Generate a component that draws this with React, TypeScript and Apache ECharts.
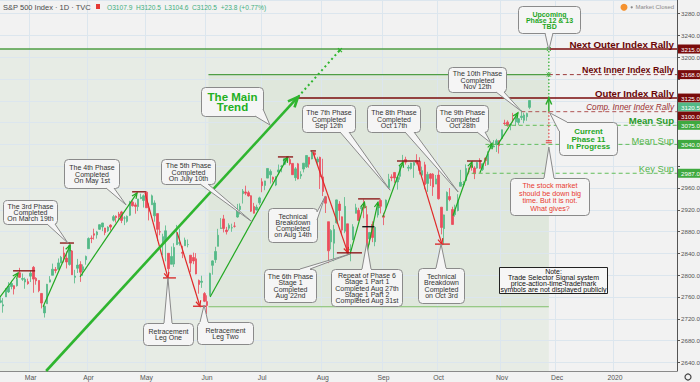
import React, { useEffect, useRef } from "react";
import * as echarts from "echarts";

// ---- S&P 500 daily bars, [open, high, low, close] ----
const feb2019 = [
  [2750.3, 2761.9, 2748.6, 2753.0], [2743.5, 2757.9, 2731.2, 2745.7], [2760.2, 2775.7, 2760.2, 2775.6],
  [2769.3, 2787.3, 2767.3, 2779.8], [2779.1, 2789.9, 2774.1, 2784.7], [2780.7, 2781.6, 2764.6, 2774.9],
  [2780.7, 2794.2, 2779.1, 2792.7], [2804.4, 2813.5, 2795.0, 2796.1], [2792.4, 2803.1, 2789.5, 2793.9],
  [2787.5, 2795.8, 2775.1, 2792.4], [2788.1, 2793.7, 2782.5, 2784.5],
];
const mar2019 = [
  [2798.2, 2808.0, 2787.4, 2803.7], [2814.4, 2816.9, 2767.7, 2792.8], [2794.4, 2796.4, 2782.5, 2789.7],
  [2790.3, 2790.3, 2768.7, 2771.5], [2766.5, 2767.3, 2739.1, 2748.9], [2730.8, 2744.1, 2722.3, 2743.1],
  [2747.6, 2784.0, 2747.6, 2783.3], [2787.3, 2798.3, 2786.7, 2791.5], [2799.8, 2821.2, 2799.8, 2810.9],
  [2810.4, 2815.0, 2803.5, 2808.5], [2810.8, 2830.7, 2810.8, 2822.5], [2822.6, 2835.4, 2822.0, 2832.9],
  [2840.8, 2852.4, 2823.3, 2832.6], [2831.3, 2843.5, 2812.4, 2824.2], [2819.7, 2860.3, 2817.4, 2854.9],
  [2844.5, 2846.2, 2800.5, 2800.7], [2796.0, 2809.8, 2785.0, 2798.4], [2812.7, 2829.9, 2804.0, 2818.5],
  [2819.7, 2825.6, 2787.7, 2805.4], [2809.4, 2819.7, 2798.8, 2815.4], [2828.3, 2836.0, 2819.2, 2834.4],
];
const apr2019 = [
  [2848.6, 2869.4, 2848.6, 2867.2], [2868.2, 2872.9, 2858.8, 2867.2], [2876.1, 2885.3, 2865.2, 2873.4],
  [2874.0, 2881.3, 2867.1, 2879.4], [2884.2, 2893.2, 2883.0, 2892.7], [2888.5, 2896.0, 2880.8, 2895.8],
  [2886.6, 2886.9, 2873.3, 2878.2], [2881.4, 2889.7, 2879.1, 2888.2], [2891.9, 2893.4, 2882.0, 2888.3],
  [2900.9, 2910.5, 2898.4, 2907.4], [2908.3, 2909.6, 2896.5, 2905.6], [2912.3, 2916.1, 2900.7, 2907.1],
  [2916.0, 2918.0, 2895.5, 2900.5], [2904.8, 2908.4, 2891.9, 2905.0], [2898.8, 2909.5, 2896.4, 2908.0],
  [2910.0, 2936.3, 2908.5, 2933.7], [2934.0, 2936.8, 2926.1, 2927.3], [2929.0, 2933.1, 2912.8, 2926.2],
  [2925.8, 2939.9, 2917.6, 2939.9], [2940.6, 2949.5, 2939.4, 2943.0], [2937.1, 2948.2, 2924.1, 2945.8],
];
const may2019 = [
  [2952.3, 2954.1, 2923.4, 2923.7], [2922.2, 2931.7, 2900.5, 2917.5], [2929.2, 2947.9, 2929.2, 2945.6],
  [2908.9, 2937.3, 2898.2, 2932.5], [2913.0, 2913.0, 2862.6, 2884.1], [2879.6, 2898.0, 2873.3, 2879.4],
  [2859.8, 2876.0, 2836.4, 2870.7], [2863.1, 2891.3, 2825.4, 2881.4], [2840.2, 2840.2, 2801.4, 2811.9],
  [2820.1, 2852.5, 2820.1, 2834.4], [2820.4, 2858.7, 2815.1, 2851.0], [2855.8, 2892.2, 2855.8, 2876.3],
  [2858.6, 2885.5, 2854.2, 2859.5], [2841.9, 2853.9, 2831.3, 2840.2], [2854.0, 2868.9, 2854.0, 2864.4],
  [2856.1, 2865.5, 2851.1, 2856.3], [2836.7, 2836.7, 2805.5, 2822.2], [2832.4, 2841.4, 2820.2, 2826.1],
  [2830.0, 2840.5, 2801.6, 2802.4], [2790.3, 2792.0, 2766.1, 2783.0], [2786.9, 2799.0, 2776.7, 2788.9],
  [2766.2, 2769.0, 2750.5, 2752.1],
];
const jun2019 = [
  [2751.5, 2763.1, 2728.8, 2744.5], [2762.6, 2804.5, 2762.6, 2803.3], [2818.1, 2827.3, 2800.9, 2826.2],
  [2828.5, 2852.1, 2822.5, 2843.5], [2852.9, 2885.0, 2852.9, 2873.3], [2885.8, 2904.8, 2885.5, 2886.7],
  [2903.3, 2910.6, 2878.5, 2885.7], [2882.7, 2888.6, 2874.7, 2879.8], [2886.2, 2895.2, 2882.0, 2891.6],
  [2886.8, 2894.5, 2879.6, 2887.0], [2889.8, 2897.3, 2887.3, 2889.7], [2906.7, 2930.8, 2905.4, 2917.8],
  [2920.6, 2931.7, 2911.4, 2926.5], [2949.6, 2958.1, 2931.5, 2954.2], [2952.7, 2964.2, 2946.9, 2950.5],
  [2951.4, 2954.9, 2944.1, 2945.4], [2945.8, 2946.5, 2916.0, 2917.4], [2926.1, 2932.6, 2913.0, 2913.8],
  [2919.7, 2929.3, 2918.6, 2924.9], [2932.9, 2944.0, 2929.1, 2941.8],
];
const jul2019 = [
  [2971.4, 2977.9, 2952.2, 2964.3], [2964.7, 2973.2, 2955.9, 2973.0], [2978.1, 2995.8, 2978.0, 2995.8],
  [2984.3, 2994.0, 2968.0, 2990.4], [2979.8, 2980.8, 2970.1, 2976.0], [2965.5, 2981.9, 2963.4, 2979.6],
  [2989.3, 3003.0, 2984.6, 2993.1], [2999.6, 3002.3, 2988.8, 2999.9], [3003.4, 3013.9, 3001.9, 3013.8],
  [3017.8, 3017.8, 3008.8, 3014.3], [3012.1, 3015.0, 3001.2, 3004.0], [3005.1, 3005.3, 2984.3, 2984.4],
  [2978.9, 2998.3, 2973.1, 2995.1], [3004.3, 3006.0, 2975.9, 2976.6], [2981.9, 2990.7, 2976.7, 2985.0],
  [2994.7, 3005.9, 2988.6, 3005.5], [2998.8, 3019.6, 2996.8, 3019.6], [3016.3, 3016.3, 2997.2, 3003.7],
  [3013.3, 3028.0, 3012.6, 3025.9], [3024.5, 3025.6, 3014.3, 3021.0], [3007.7, 3017.2, 3000.9, 3013.2],
  [3016.2, 3017.4, 2958.1, 2980.4],
];
const aug2019 = [
  [2980.3, 3013.6, 2945.2, 2953.6], [2943.9, 2945.5, 2914.1, 2932.1], [2898.1, 2898.1, 2822.1, 2844.7],
  [2861.2, 2884.4, 2847.4, 2881.8], [2858.7, 2892.2, 2825.7, 2884.0], [2896.2, 2938.7, 2894.5, 2938.1],
  [2930.5, 2935.8, 2900.2, 2918.7], [2907.1, 2907.6, 2873.1, 2882.7], [2880.7, 2943.3, 2877.1, 2926.3],
  [2894.2, 2894.2, 2839.6, 2840.6], [2846.2, 2856.7, 2825.5, 2847.6], [2864.7, 2893.6, 2864.7, 2888.7],
  [2913.5, 2931.0, 2913.5, 2923.7], [2919.0, 2923.6, 2899.6, 2900.5], [2922.0, 2928.7, 2917.9, 2924.4],
  [2930.9, 2939.1, 2904.5, 2923.0], [2911.1, 2927.0, 2835.0, 2847.1], [2866.7, 2879.3, 2856.0, 2878.4],
  [2893.1, 2898.8, 2860.6, 2869.2], [2861.3, 2890.0, 2853.1, 2887.9], [2910.4, 2930.5, 2905.7, 2924.6],
  [2937.1, 2940.4, 2913.3, 2926.5],
];
const sep2019 = [
  [2909.0, 2914.4, 2891.9, 2906.3], [2924.7, 2938.8, 2921.9, 2937.8], [2960.6, 2985.9, 2960.6, 2976.0],
  [2980.3, 2985.0, 2972.5, 2978.7], [2988.4, 2989.4, 2969.4, 2978.4], [2971.0, 2979.4, 2957.0, 2979.4],
  [2981.4, 3000.9, 2975.3, 3000.9], [3009.1, 3020.7, 3000.9, 3009.6], [3012.2, 3017.3, 3002.9, 3007.4],
  [2996.4, 3002.2, 2990.7, 2998.0], [2995.7, 3006.2, 2993.7, 3005.7], [3001.5, 3007.8, 2978.6, 3006.7],
  [3010.4, 3022.0, 3003.2, 3006.8], [3008.4, 3016.4, 2984.7, 2992.1], [2983.5, 2999.2, 2982.2, 2991.8],
  [3002.4, 3008.0, 2957.7, 2966.6], [2968.4, 2989.8, 2952.9, 2984.9], [2985.7, 2987.3, 2963.7, 2977.6],
  [2985.5, 2987.3, 2945.5, 2961.8], [2967.1, 2983.9, 2967.1, 2976.7],
];
const oct2019 = [
  [2983.7, 2992.5, 2938.7, 2940.3], [2924.8, 2924.8, 2874.9, 2887.6], [2885.4, 2911.1, 2855.9, 2910.6],
  [2918.6, 2953.7, 2918.6, 2952.0], [2944.2, 2959.8, 2935.7, 2938.8], [2920.4, 2925.5, 2892.7, 2893.1],
  [2911.1, 2929.3, 2907.4, 2919.4], [2918.6, 2948.5, 2917.1, 2938.1], [2963.1, 2993.3, 2963.1, 2970.3],
  [2965.8, 2972.8, 2962.9, 2966.2], [2973.6, 3003.3, 2973.6, 2995.7], [2989.7, 2997.5, 2985.2, 2989.7],
  [3000.8, 3008.3, 2991.8, 2998.0], [2996.8, 3000.0, 2976.3, 2986.2], [2996.5, 3007.3, 2995.4, 3006.7],
  [3010.7, 3014.6, 2995.0, 2996.0], [2994.0, 3004.8, 2991.2, 3004.5], [3014.8, 3016.1, 3000.4, 3010.3],
  [3003.3, 3027.4, 3001.9, 3022.6], [3032.1, 3044.1, 3032.1, 3039.4], [3035.4, 3047.9, 3034.8, 3036.9],
  [3039.7, 3050.1, 3026.0, 3046.8], [3046.9, 3046.9, 3023.2, 3037.6],
];
const nov2019 = [
  [3050.7, 3067.0, 3050.7, 3066.9], [3079.0, 3085.2, 3074.9, 3078.3], [3080.8, 3084.0, 3072.2, 3074.6],
  [3075.1, 3078.3, 3065.9, 3076.8], [3087.0, 3097.8, 3080.2, 3085.2], [3081.3, 3093.1, 3073.6, 3093.1],
  [3080.3, 3088.3, 3075.8, 3087.0], [3089.3, 3102.6, 3084.7, 3091.8], [3084.2, 3098.1, 3078.8, 3094.0],
  [3090.8, 3098.2, 3083.3, 3096.6], [3107.9, 3120.5, 3104.6, 3120.5],
];

// ---- calendar ----
const FIRST_DAY = "2019-02-13";
const BAR_COUNT = 246;
const LAST_LABEL_MONTH = "2020-01";
const holidays = ["2019-02-18", "2019-04-19", "2019-05-27", "2019-07-04", "2019-09-02", "2019-11-28", "2019-12-25", "2020-01-01", "2020-01-20"];
const monthNames = ["Jan", "Feb", "Mar", "Apr", "May", "Jun", "Jul", "Aug", "Sep", "Oct", "Nov", "Dec"];

// ---- price levels (right side) ----
const levelNextOuter = 3215;
const levelNextInner = 3168;
const levelOuter = 3125;
const levelCompInner = 3100;
const levelMeanSup1 = 3075;
const levelMeanSup2 = 3040;
const levelKeySup = 2987;
const innerZoneBottom = 2742;

// ---- annotation anchors in data space: [bar index, price] ----
const phaseArrows = [
  { from: [-0.1, 2760], to: [6.4, 2804], up: true },
  { from: [15.5, 2742], to: [25.3, 2855], up: true },
  { from: [28.9, 2797], to: [49.6, 2951], up: true },
  { from: [52.5, 2951], to: [60.8, 2795], up: false },
  { from: [64.1, 2879], to: [72.4, 2743], up: false },
  { from: [76.1, 2760], to: [104.3, 3017], up: true },
  { from: [113.4, 3026], to: [126.1, 2841], up: false },
  { from: [126.9, 2839], to: [132.1, 2934], up: true },
  { from: [133.0, 2841], to: [137.0, 2934], up: true },
  { from: [138.8, 2907], to: [146.1, 3008], up: true },
  { from: [151.2, 3008], to: [160.2, 2857], up: false },
  { from: [164.2, 2909], to: [171.1, 3008], up: true },
  { from: [174.0, 2988], to: [178.4, 3042], up: true },
  { from: [180.4, 3039], to: [187.8, 3098], up: true },
];
const markers = [
  { from: 4.6, to: 12.6, price: 2808, kind: "dark" },
  { from: 21.6, to: 26.7, price: 2859, kind: "dark" },
  { from: 47.8, to: 52.8, price: 2953, kind: "dark" },
  { from: 59.0, to: 63.7, price: 2795, kind: "red" },
  { from: 69.9, to: 74.6, price: 2743, kind: "red" },
  { from: 100.7, to: 106.2, price: 3017, kind: "dark" },
  { from: 112.5, to: 114.5, price: 3028, kind: "dark" },
  { from: 122.1, to: 131.2, price: 2841, kind: "dark" },
  { from: 129.8, to: 137.7, price: 2940, kind: "dark" },
  { from: 131.3, to: 135.6, price: 2889, kind: "black" },
  { from: 143.9, to: 152.3, price: 3009.5, kind: "dark" },
  { from: 157.7, to: 163.1, price: 2857, kind: "red" },
  { from: 169.3, to: 174.7, price: 3009.5, kind: "dark" },
];
const mainTrend = { from: [16.6, 2624.2], to: [108, 3127], ext: [123.2, 3213] };
const projectionBar = 199;
const innerZoneStart = 75.5;

// ---- callouts: text, box (pixels), wedge base (pixels), tip (data) ----
const callouts = [
  { text: "The 3rd Phase\nCompleted\nOn March 19th", box: [3, 200, 54, 24], base: [[47, 224], [55, 224]], tip: [24.5, 2859], kind: "plain" },
  { text: "The 4th Phase\nCompleted\nOn May 1st", box: [64, 159, 55, 29], base: [[106, 188], [114, 188]], tip: [45.6, 2929], kind: "plain" },
  { text: "The 5th Phase\nCompleted\nOn July 10th", box: [161, 159, 54, 25], base: [[200, 184], [208, 184]], tip: [91.3, 2898], kind: "plain" },
  { text: "Retracement\nLeg One", box: [143, 323, 50, 22], base: [[164, 323], [172, 323]], tip: [60.8, 2795], kind: "plain" },
  { text: "Retracement\nLeg Two", box: [197, 322, 56, 22], base: [[200, 322], [208, 322]], tip: [73.9, 2745], kind: "plain" },
  { text: "The 6th Phase\nStage 1\nCompleted\nAug 22nd", box: [264, 269, 52, 33], base: [[300, 269], [310, 269]], tip: [126.9, 2839], kind: "plain" },
  { text: "Technical\nBreakdown\nCompleted\non Aug 14th", box: [268, 208, 49, 34], base: [[317, 212], [317, 220]], tip: [117.8, 2944], kind: "plain" },
  { text: "The 7th Phase\nCompleted\nSep 12th", box: [302, 105, 53, 27], base: [[340, 132], [349, 132]], tip: [141.4, 2956], kind: "plain" },
  { text: "Repeat of Phase 6\nStage 1 Part 1\nCompleted Aug 27th\nStage 1 Part 2\nCompleted Aug 31st", box: [331, 269, 71, 37], base: [[362, 269], [371, 269]], tip: [132.9, 2858.5], kind: "plain" },
  { text: "The 8th Phase\nCompleted\nOct 17th", box: [367, 105, 53, 27], base: [[405, 132], [414, 132]], tip: [166.1, 2952.6], kind: "plain" },
  { text: "Technical\nBreakdown\nCompleted\non Oct 3rd", box: [418, 268, 46, 35], base: [[436, 268], [446, 268]], tip: [159.9, 2857], kind: "plain" },
  { text: "The 9th Phase\nCompleted\nOct 28th", box: [436, 105, 52, 27], base: [[477, 132], [485, 132]], tip: [178.0, 3042.5], kind: "plain" },
  { text: "The 10th Phase\nCompleted\nNov 12th", box: [448, 67, 58, 25], base: [[496, 92], [504, 92]], tip: [189.2, 3100], kind: "plain" },
  { text: "Upcoming\nPhase 12 & 13\nTBD", box: [518, 6, 62, 27], base: [[545, 33], [553, 33]], tip: [199, 3213], kind: "greenSmall" },
  { text: "Current\nPhase 11\nIn Progress", box: [559, 122, 58, 33], base: [[559, 131], [567, 122]], tip: [199.3, 3098], kind: "green" },
  { text: "The stock market\nshould be down big\ntime. But it is not.\nWhat gives?", box: [510, 178, 79, 37], base: [[544, 178], [554, 178]], tip: [199, 3035], kind: "red" },
  { text: "The Main\nTrend", box: [201, 87, 62, 29], base: [[255, 116], [263, 109]], tip: [97.8, 3075.6], kind: "trend" },
];
const noteText = "Note:\nTrade Selector Signal system\nprice-action-time-trademark\nsymbols are not displayed publicly";

const FONT = "Liberation Sans";
const DARK_RED = "#7a0b0b";
const GREEN_LINE = "#4f9e45";
const UP = "#53b987";
const DOWN = "#eb4d5c";

function tradingDays(start: string, count: number): string[] {
  const out: string[] = [];
  const d = new Date(start + "T00:00:00Z");
  while (out.length < count) {
    const wd = d.getUTCDay();
    const s = d.toISOString().slice(0, 10);
    if (wd !== 0 && wd !== 6 && holidays.indexOf(s) < 0) out.push(s);
    d.setUTCDate(d.getUTCDate() + 1);
  }
  return out;
}

export default function App() {
  const ref = useRef<HTMLDivElement>(null);
  useEffect(() => {
    if (!ref.current) return;
    document.body.style.margin = "0";
    const chart = echarts.init(ref.current, null, { renderer: "svg" });
    const dates = tradingDays(FIRST_DAY, BAR_COUNT);
    const bars = [...feb2019, ...mar2019, ...apr2019, ...may2019, ...jun2019, ...jul2019, ...aug2019, ...sep2019, ...oct2019, ...nov2019];
    const candles = bars.map(([o, h, l, c]) => [o, c, l, h]);
    const lastClose = bars[bars.length - 1][3];
    const isMonthStart = (i: number) =>
      i > 0 && dates[i].slice(5, 7) !== dates[i - 1].slice(5, 7) && dates[i].slice(0, 7) <= LAST_LABEL_MONTH;
    const tagLevels = [levelNextOuter, levelNextInner, levelOuter, lastClose, levelCompInner, levelMeanSup1, levelMeanSup2, levelKeySup];
    const hiddenByTag = (v: number) => tagLevels.some((t) => Math.abs(t - v) * 0.545 < 7.6);

    chart.setOption({
      animation: false,
      backgroundColor: "#f2f2f2",
      textStyle: { fontFamily: FONT },
      grid: { left: -1, right: 23, top: 0, bottom: 11, containLabel: false, outerBoundsMode: "none" },
      xAxis: {
        type: "category",
        data: dates,
        boundaryGap: true,
        axisLine: { lineStyle: { color: "#8a8a8a", width: 1.2 } },
        axisTick: { interval: (i: number) => isMonthStart(i), alignWithLabel: true, length: 3, lineStyle: { color: "#777" } },
        axisLabel: {
          interval: (i: number) => isMonthStart(i),
          formatter: (v: string) => {
            const m = +v.slice(5, 7);
            return m === 1 ? v.slice(0, 4) : monthNames[m - 1];
          },
          fontSize: 6.8, color: "#555", margin: 3,
        },
        splitLine: { show: true, interval: (i: number) => isMonthStart(i), lineStyle: { color: "#dce6ee", width: 1 } },
      },
      yAxis: {
        type: "value",
        position: "right",
        min: 2624.2,
        max: 3304.9,
        minInterval: 40,
        maxInterval: 40,
        splitNumber: 17,
        axisLine: { show: true, lineStyle: { color: "#555" } },
        axisTick: { show: true, length: 3, lineStyle: { color: "#555" } },
        axisLabel: {
          formatter: (v: number) => (hiddenByTag(v) ? "" : v.toFixed(1)),
          fontSize: 6.2, color: "#555", margin: 4, showMinLabel: false, showMaxLabel: false,
        },
        splitLine: { show: true, lineStyle: { color: "#dce6ee", width: 1 } },
      },
      series: [
        {
          type: "candlestick",
          data: candles,
          barWidth: 2,
          itemStyle: { color: UP, color0: DOWN, borderColor: UP, borderColor0: DOWN, borderWidth: 0.8 },
        },
      ],
    });

    const x0 = chart.convertToPixel({ xAxisIndex: 0 }, dates[0]) as number;
    const x1 = chart.convertToPixel({ xAxisIndex: 0 }, dates[1]) as number;
    const dx = x1 - x0;
    const X = (i: number) => x0 + i * dx;
    const Y = (p: number) => chart.convertToPixel({ yAxisIndex: 0 }, p) as number;
    const P = (a: number[]) => [X(a[0]), Y(a[1])];
    const xRight = X(BAR_COUNT - 1) + dx / 2;
    const yBottom = Y(2624.2);

    const els: any[] = [];
    const seg = (xa: number, ya: number, xb: number, yb: number, stroke: string, lw: number, dash?: number[], z = 10) => ({
      type: "line", silent: true, z, shape: { x1: xa, y1: ya, x2: xb, y2: yb }, style: { stroke, lineWidth: lw, lineDash: dash },
    });
    const arrow = (a: number[], b: number[], color: string, lw: number, head: number, z = 10) => {
      const [xa, ya] = P(a);
      const [xb, yb] = P(b);
      const ang = Math.atan2(yb - ya, xb - xa);
      const t = 0.42;
      els.push(seg(xa, ya, xb, yb, color, lw, undefined, z));
      els.push({
        type: "polyline", silent: true, z,
        shape: { points: [[xb - head * Math.cos(ang - t), yb - head * Math.sin(ang - t)], [xb, yb], [xb - head * Math.cos(ang + t), yb - head * Math.sin(ang + t)]] },
        style: { stroke: color, lineWidth: lw, fill: null },
      });
    };
    const text = (x: number, y: number, s: string, font: string, fill: string, align = "center", lineHeight?: number, z = 25) => ({
      type: "text", silent: true, z, x, y,
      style: { text: s, font, fill, textAlign: align, textVerticalAlign: "middle", align, verticalAlign: "middle", lineHeight },
    });

    // zones
    const zoneRight = X(projectionBar);
    els.push({ type: "rect", silent: true, z: -5, shape: { x: 0, y: Y(levelNextOuter), width: zoneRight, height: yBottom - Y(levelNextOuter) }, style: { fill: "#e7ece5" } });
    els.push({ type: "rect", silent: true, z: -4, shape: { x: X(innerZoneStart), y: Y(levelNextInner), width: zoneRight - X(innerZoneStart), height: Y(innerZoneBottom) - Y(levelNextInner) }, style: { fill: "#dfe7dc" } });

    // level lines
    els.push(seg(0, Y(levelNextOuter), zoneRight, Y(levelNextOuter), GREEN_LINE, 1.3, undefined, 5));
    els.push(seg(zoneRight, Y(levelNextOuter), xRight, Y(levelNextOuter), DARK_RED, 1.6, undefined, 5));
    els.push(seg(X(innerZoneStart), Y(levelNextInner), zoneRight, Y(levelNextInner), GREEN_LINE, 1.1, undefined, 5));
    els.push(seg(zoneRight, Y(levelNextInner), xRight, Y(levelNextInner), "#9a3a3a", 1, [4, 3], 5));
    els.push(seg(X(innerZoneStart), Y(innerZoneBottom), zoneRight, Y(innerZoneBottom), "#7fbf6a", 1.1, undefined, 5));
    els.push(seg(X(108), Y(levelOuter), xRight, Y(levelOuter), DARK_RED, 1.6, undefined, 5));
    els.push(seg(X(189), Y(levelCompInner), xRight, Y(levelCompInner), "#b05555", 1, [4, 3], 5));
    els.push(seg(X(183), Y(levelMeanSup1), xRight, Y(levelMeanSup1), "#62bd5a", 1, [4, 3], 5));
    els.push(seg(X(176), Y(levelMeanSup2), xRight, Y(levelMeanSup2), "#62bd5a", 1, [4, 3], 5));
    els.push(seg(X(171), Y(levelKeySup), xRight, Y(levelKeySup), "#62bd5a", 1, [4, 3], 5));

    // level labels
    const lx = xRight - 3;
    els.push(text(lx, Y(levelNextOuter) - 4.5, "Next Outer Index Rally", `bold 9.8px ${FONT}`, "#6a0606", "right"));
    els.push(text(lx, Y(levelNextInner) - 5, "Next Inner Index Rally", `bold 8.8px ${FONT}`, "#6a0606", "right"));
    els.push(text(lx, Y(levelOuter) - 5, "Outer Index Rally", `bold 9.6px ${FONT}`, "#6a0606", "right"));
    els.push(text(lx, Y(levelCompInner) - 3.8, "Comp. Inner Index Rally", `italic 8.2px ${FONT}`, "#9a2f2f", "right"));
    els.push(text(lx, Y(levelMeanSup1) - 5, "Mean Sup", `bold 9.6px ${FONT}`, "#2a9a2a", "right"));
    els.push(text(lx, Y(levelMeanSup2) - 3.8, "Mean Sup", `9.3px ${FONT}`, "#52b34a", "right"));
    els.push(text(lx, Y(levelKeySup) - 3.8, "Key Sup", `9.3px ${FONT}`, "#52b34a", "right"));

    // main trend
    arrow(mainTrend.from, mainTrend.to, "#2fb52f", 2.6, 11, 12);
    {
      const [xa, ya] = P(mainTrend.to);
      const [xb, yb] = P(mainTrend.ext);
      els.push(seg(xa, ya, xb, yb, "#2fb52f", 2, [2, 3], 12));
      els.push(seg(xb - 2, yb - 2, xb + 2, yb + 2, "#2fb52f", 1.2, undefined, 12));
      els.push(seg(xb - 2, yb + 2, xb + 2, yb - 2, "#2fb52f", 1.2, undefined, 12));
    }

    // phase arrows
    phaseArrows.forEach((a) => arrow(a.from, a.to, a.up ? "#21a821" : "#e02828", 1.2, 6));

    // markers
    const markerColor: Record<string, string> = { dark: "#8e1b1b", red: "#d63030", black: "#1a1a1a" };
    markers.forEach((m) => els.push(seg(X(m.from), Y(m.price), X(m.to), Y(m.price), markerColor[m.kind], 1.4, undefined, 11)));

    // projection bar
    {
      const xp = X(projectionBar);
      els.push(seg(xp, Y(levelOuter), xp, Y(levelNextOuter), "#35b035", 1.3, [1.5, 2], 12));
      [levelNextOuter, levelNextInner].forEach((lv) => {
        els.push(seg(xp - 2, Y(lv) - 2, xp + 2, Y(lv) + 2, "#35b035", 1, undefined, 12));
        els.push(seg(xp - 2, Y(lv) + 2, xp + 2, Y(lv) - 2, "#35b035", 1, undefined, 12));
      });
      arrow([projectionBar, levelCompInner], [projectionBar, levelOuter], "#2aaa2a", 1.5, 7, 12);
      els.push(seg(xp, Y(levelCompInner), xp, Y(3043), "#e04040", 1.2, [1.5, 2], 12));
      els.push(seg(xp - 3, Y(3043), xp + 3, Y(3043), "#e04040", 1, undefined, 12));
      els.push(seg(xp - 3, Y(3043) - 2, xp + 3, Y(3043) - 2, "#e04040", 1, undefined, 12));
    }

    // callouts
    const calloutFont: Record<string, { font: string; fill: string; lh: number }> = {
      plain: { font: `7px ${FONT}`, fill: "#333", lh: 6.1 },
      greenSmall: { font: `bold 7px ${FONT}`, fill: "#1fa71f", lh: 6 },
      green: { font: `bold 7.9px ${FONT}`, fill: "#1fa71f", lh: 7.8 },
      red: { font: `7.2px ${FONT}`, fill: "#e8392f", lh: 7.7 },
      trend: { font: `bold 11.5px ${FONT}`, fill: "#22b022", lh: 10.9 },
    };
    callouts.forEach((c) => {
      const [bx, by, bw, bh] = c.box;
      const [tx, ty] = P(c.tip);
      const cx = bx + bw / 2;
      const cy = by + bh / 2;
      els.push({ type: "rect", silent: true, z: 20, shape: { x: bx + 0.5, y: by + 0.5, width: bw, height: bh, r: 4 }, style: { fill: "#f5f5f5", stroke: "#8a8a8a", lineWidth: 1 } });
      const inward = (p: number[]) => {
        const onH = Math.abs(p[1] - by) < 0.6 || Math.abs(p[1] - (by + bh)) < 0.6;
        return onH ? [p[0], p[1] + (cy > p[1] ? 2 : -2)] : [p[0] + (cx > p[0] ? 2 : -2), p[1]];
      };
      const b0 = c.base[0];
      const b1 = c.base[1];
      els.push({ type: "polygon", silent: true, z: 21, shape: { points: [inward(b0), b0, [tx, ty], b1, inward(b1)] }, style: { fill: "#f5f5f5" } });
      els.push(seg(b0[0], b0[1], tx, ty, "#8a8a8a", 1, undefined, 21));
      els.push(seg(b1[0], b1[1], tx, ty, "#8a8a8a", 1, undefined, 21));
      const f = calloutFont[c.kind];
      els.push(text(cx + 0.5, cy + 0.5, c.text, f.font, f.fill, "center", f.lh));
    });
    // note box
    els.push({ type: "rect", silent: true, z: 20, shape: { x: 499.5, y: 267.5, width: 108, height: 26 }, style: { fill: "#f6f6f6", stroke: "#222", lineWidth: 1 } });
    els.push(text(553.5, 280.5, noteText, `7px ${FONT}`, "#111", "center", 5.9));

    // price tags
    const tagColors = [DARK_RED, DARK_RED, DARK_RED, UP, DARK_RED, "#3fa93f", "#3fa93f", "#3fa93f"];
    const tags = tagLevels.map((p, k) => ({ p, c: tagColors[k], y: Y(p) })).sort((a, b) => a.y - b.y);
    let prev = -100;
    tags.forEach((t) => {
      const y = Math.max(t.y, prev + 9);
      prev = y;
      els.push({ type: "rect", silent: true, z: 30, shape: { x: xRight + 1, y: y - 4.5, width: 24, height: 9 }, style: { fill: t.c } });
      els.push(text(xRight + 4, y + 0.3, t.p.toFixed(1), `6.2px ${FONT}`, "#fff", "left", undefined, 31));
    });

    // header
    els.push(text(3, 7, "S&P 500 Index · 1D · TVC", `7.5px ${FONT}`, "#4a4a4a", "left", undefined, 40));
    els.push({ type: "rect", silent: true, z: 40, shape: { x: 96, y: 4, width: 4, height: 5 }, style: { fill: "#e53935" } });
    els.push(text(107, 7, "O3107.9  H3120.5  L3104.6  C3120.5  +23.8 (+0.77%)", `6.6px ${FONT}`, "#3fae7e", "left", undefined, 40));
    els.push({ type: "circle", silent: true, z: 40, shape: { cx: 624, cy: 7.3, r: 3.5 }, style: { fill: "#f5922f" } });
    els.push({ type: "circle", silent: true, z: 40, shape: { cx: 631.7, cy: 7.3, r: 1.1 }, style: { fill: "#888" } });
    els.push(text(635.5, 7.3, "Market Closed", `6px ${FONT}`, "#8a8a8a", "left", undefined, 40));
    els.push({ type: "circle", silent: true, z: 40, shape: { cx: 688, cy: 377, r: 3 }, style: { fill: "none", stroke: "#444", lineWidth: 1.2 } });

    chart.setOption({ graphic: { elements: els } });
    return () => chart.dispose();
  }, []);
  return <div ref={ref} style={{ width: 700, height: 382, position: "fixed", left: 0, top: 0 }} />;
}
